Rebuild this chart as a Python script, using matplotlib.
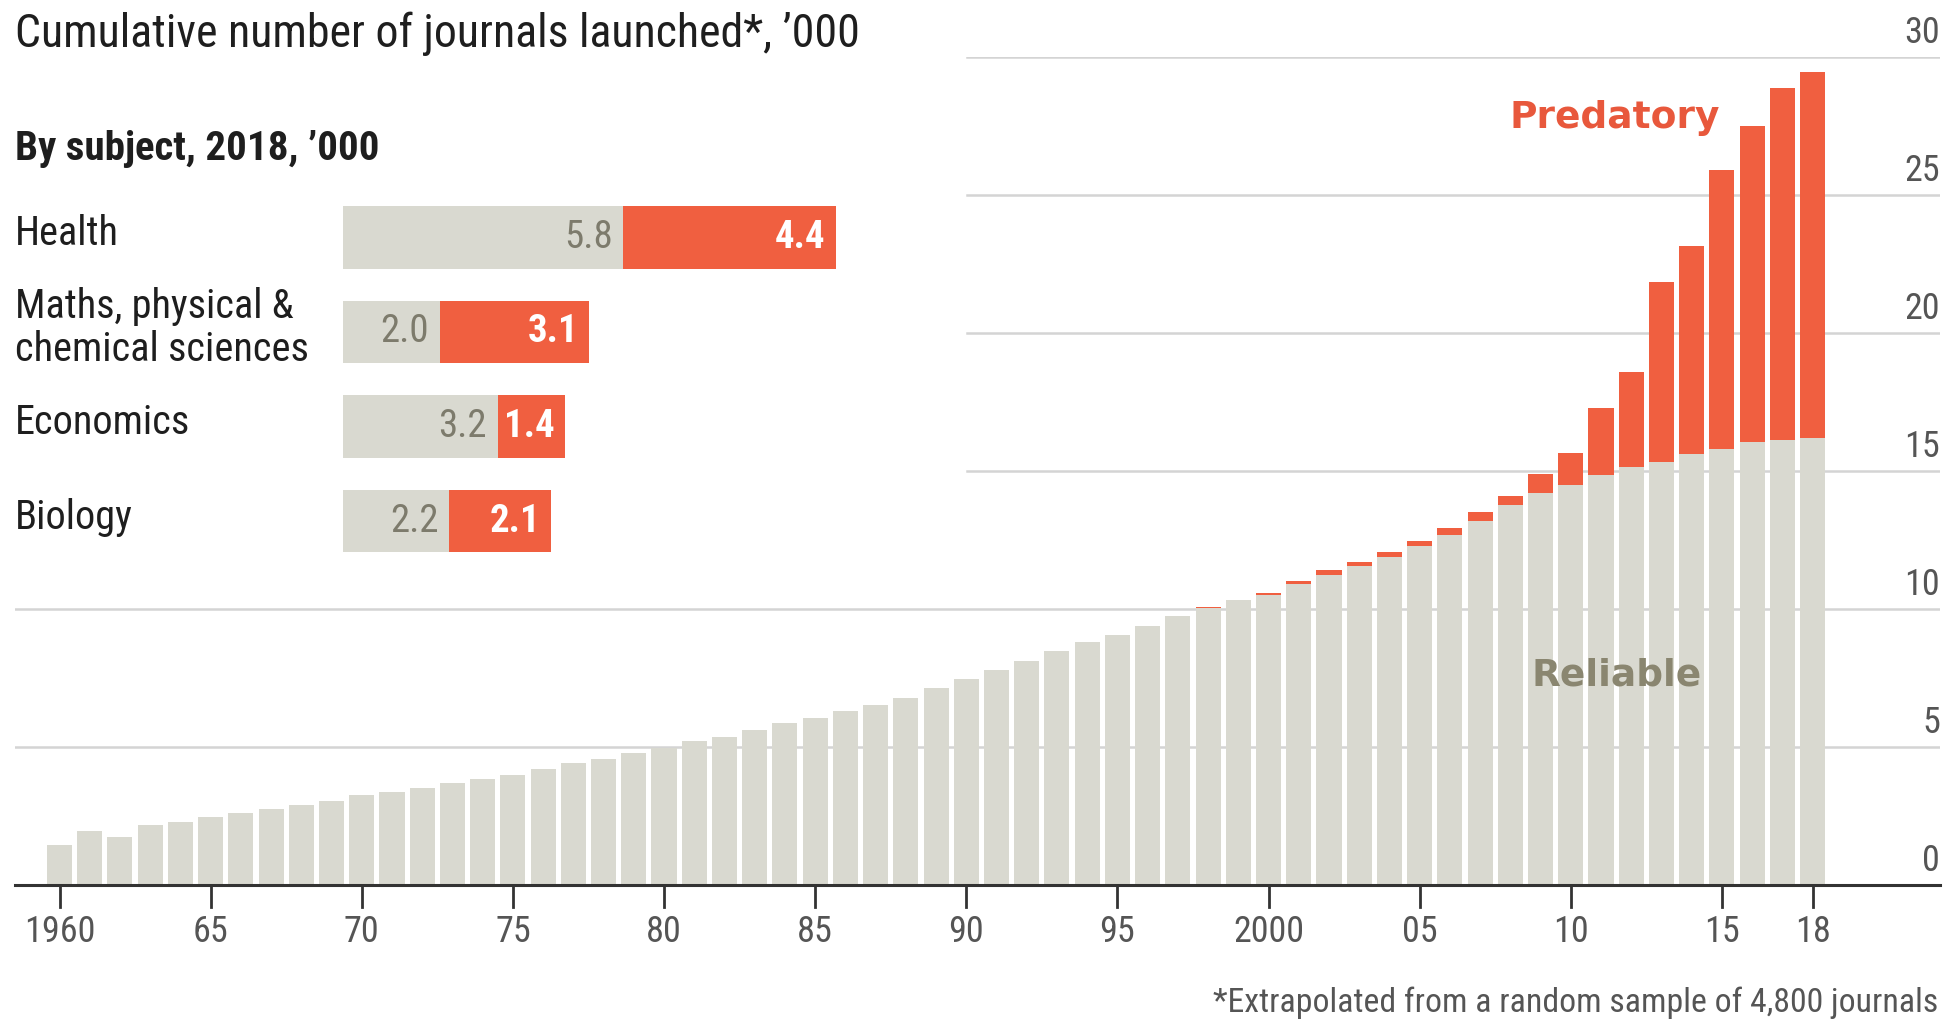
import matplotlib
matplotlib.use("Agg")
import matplotlib.pyplot as plt
from matplotlib import font_manager
from matplotlib.transforms import blended_transform_factory
import numpy as np

# ---------------- data ----------------
years = list(range(1960, 2019))
reliable = [1.45, 1.96, 1.73, 2.18, 2.30, 2.45, 2.61, 2.75, 2.90, 3.05,
            3.25, 3.38, 3.50, 3.70, 3.85, 4.00, 4.21, 4.42, 4.57, 4.79,
            4.98, 5.23, 5.38, 5.63, 5.86, 6.05, 6.30, 6.51, 6.78, 7.13,
            7.47, 7.80, 8.11, 8.47, 8.82, 9.05, 9.38, 9.76, 10.03, 10.31,
            10.52, 10.92, 11.25, 11.55, 11.88, 12.29, 12.69, 13.19, 13.76, 14.19,
            14.50, 14.86, 15.14, 15.33, 15.60, 15.78, 16.04, 16.14, 16.20]
predatory = [0.0] * 38 + [0.03, 0.03,
             0.07, 0.10, 0.15, 0.17, 0.17, 0.17, 0.24, 0.31, 0.34, 0.69,
             1.14, 2.42, 3.45, 6.51, 7.55, 10.12, 11.46, 12.74, 13.27]

subjects = ["Health", "Maths, physical &\nchemical sciences", "Economics", "Biology"]
subj_reliable = [5.8, 2.0, 3.2, 2.2]
subj_predatory = [4.4, 3.1, 1.4, 2.1]

xtick_years = [1960, 1965, 1970, 1975, 1980, 1985, 1990, 1995, 2000, 2005, 2010, 2015, 2018]
xtick_labels = ["1960", "65", "70", "75", "80", "85", "90", "95", "2000", "05", "10", "15", "18"]
yticks = [0, 5, 10, 15, 20, 25, 30]

# ---------------- fonts ----------------
available = {f.name for f in font_manager.fontManager.ttflist}
narrow = None
for cand in ["Liberation Sans Narrow", "Roboto Condensed", "Open Sans Condensed",
             "DejaVu Sans Condensed", "Noto Sans Condensed"]:
    if cand in available:
        narrow = cand
        break
if narrow is None:
    narrow = "Liberation Sans" if "Liberation Sans" in available else "DejaVu Sans"
    narrow_scale = 0.82
else:
    narrow_scale = 1.0
NARROW = [narrow, "DejaVu Sans"]
BOLD = ["DejaVu Sans"]

GRAY = "#d9d9d0"
RED = "#f05f40"
TXT = "#1e1e1e"
TICKTXT = "#555555"

W, H = 1944, 1025
fig = plt.figure(figsize=(W / 100, H / 100), dpi=100)
fig.patch.set_facecolor("white")

# ---------------- main axes ----------------
x_left_px, x_right_px = 15, 1940
y_base_px, y_top_px = 885, 57
ax = fig.add_axes([x_left_px / W, (H - y_base_px) / H,
                   (x_right_px - x_left_px) / W, (y_base_px - y_top_px) / H])
px_per_year = (1812.6 - 59.5) / 58.0
x0 = 1960 - (59.5 - x_left_px) / px_per_year
x1 = 2018 + (x_right_px - 1812.6) / px_per_year
ax.set_xlim(x0, x1)
ax.set_ylim(0, 30)
ax.axis("off")

tick_fs = 26 * narrow_scale

# gridlines
split_frac = (967 - x_left_px) / (x_right_px - x_left_px)
for yv in yticks[1:]:
    xmin = 0 if yv <= 10 else split_frac
    ax.axhline(yv, xmin=xmin, xmax=1, color="#d4d4d4", lw=1.8, zorder=0)
for yv in yticks:
    ax.text(x1, yv + 0.22, str(yv), ha="right", va="bottom",
            fontsize=tick_fs, color=TICKTXT, family=NARROW)

bw = 0.83
ax.bar(years, reliable, width=bw, color=GRAY, zorder=2)
ax.bar(years, predatory, width=bw, bottom=reliable, color=RED, zorder=2)

# baseline
ax.axhline(0, color="#333333", lw=2.2, zorder=3, clip_on=False)

# x ticks (short lines below baseline)
for yr, lab in zip(xtick_years, xtick_labels):
    ax.plot([yr, yr], [0, -0.8], color="#333333", lw=2, clip_on=False, zorder=3)
    ax.text(yr, -1.05, lab, ha="center", va="top", fontsize=tick_fs,
            color=TICKTXT, family=NARROW, clip_on=False)

ax.text(2011.45, 27.8, "Predatory", ha="center", va="center", fontsize=27,
        fontweight="bold", color="#e8583c", family=BOLD)
ax.text(2011.5, 7.6, "Reliable", ha="center", va="center", fontsize=27,
        fontweight="bold", color="#8a8670", family=BOLD)

# ---------------- titles ----------------
fig.text(15 / W, 1 - 34 / H, "Cumulative number of journals launched*, \u2019000",
         ha="left", va="center", fontsize=33 * narrow_scale, color=TXT, family=NARROW)
fig.text(15 / W, 1 - 149 / H, "By subject, 2018, \u2019000",
         ha="left", va="center", fontsize=29.5 * narrow_scale, color=TXT,
         family=NARROW, fontweight="semibold")
fig.text(1938 / W, 1 - 1003 / H, "*Extrapolated from a random sample of 4,800 journals",
         ha="right", va="center", fontsize=24.3 * narrow_scale, color="#555555", family=NARROW)

# ---------------- subject panel ----------------
px_per_unit = 48.3
sx_left = 343
ax2 = fig.add_axes([sx_left / W, (H - 568.25) / H,
                    (px_per_unit * 12) / W, (568.25 - 190.25) / H])
ax2.set_xlim(0, 12)
ax2.set_ylim(3.5, -0.5)
ax2.axis("off")
pos = np.arange(len(subjects))
bh = 0.66
ax2.barh(pos, subj_reliable, height=bh, color=GRAY)
ax2.barh(pos, subj_predatory, left=subj_reliable, height=bh, color=RED)
pad = 0.22
for i, (r, p) in enumerate(zip(subj_reliable, subj_predatory)):
    ax2.text(r - pad, i, f"{r:.1f}", ha="right", va="center",
             fontsize=28 * narrow_scale, color="#7d7b6c", family=NARROW)
    ax2.text(r + p - pad, i, f"{p:.1f}", ha="right", va="center",
             fontsize=28 * narrow_scale, color="white", family=NARROW, fontweight="bold")

tr = blended_transform_factory(fig.transFigure, ax2.transData)
for i, s in enumerate(subjects):
    ax2.text(15 / W, i - 0.04, s, transform=tr, ha="left", va="center",
             fontsize=29 * narrow_scale, color=TXT, family=NARROW, linespacing=1.12)

fig.savefig("out.png", dpi=100, facecolor="white")
